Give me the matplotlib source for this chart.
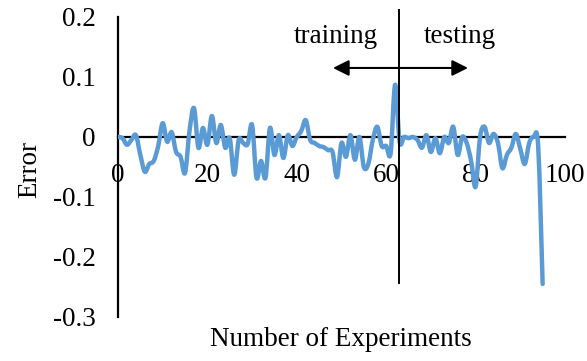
import matplotlib
matplotlib.use("Agg")
import matplotlib.pyplot as plt
from matplotlib.path import Path
from matplotlib.patches import PathPatch

# prediction error per experiment (first 63 used for training, rest for testing)
experiments = list(range(96))
errors = [
    0.000, -0.002, -0.013, -0.005, 0.003, -0.030, -0.058, -0.045, -0.040, -0.015,
    0.023, -0.008, 0.008, -0.025, -0.033, -0.060, 0.010, 0.048, -0.018, 0.015,
    -0.013, 0.035, -0.010, 0.020, -0.018, -0.002, -0.063, -0.005, -0.010, -0.012,
    0.020, -0.068, -0.040, -0.068, 0.015, -0.030, 0.003, -0.035, 0.003, -0.015,
    0.000, 0.010, 0.028, -0.005, -0.010, -0.015, -0.017, -0.022, -0.025, -0.067,
    -0.010, -0.033, 0.003, -0.038, 0.000, -0.050, -0.045, -0.005, 0.017, -0.015,
    -0.015, -0.027, 0.087, -0.008, 0.000, -0.002, 0.000, -0.005, -0.018, 0.003,
    -0.025, -0.002, -0.027, 0.000, -0.010, 0.017, -0.030, 0.000, -0.010, -0.040,
    -0.083, 0.000, 0.017, -0.010, 0.005, -0.010, -0.052, -0.030, -0.018, 0.005,
    -0.020, -0.045, -0.010, 0.000, -0.015, -0.245,
]
split_at = 62.9
x_ticks = [0, 20, 40, 60, 80, 100]
y_ticks = [-0.3, -0.2, -0.1, 0, 0.1, 0.2]
y_tick_labels = ["-0.3", "-0.2", "-0.1", "0", "0.1", "0.2"]


def smooth_path(xs, ys):
    # cubic bezier through every point (catmull-rom style, like a smoothed line)
    pts = list(zip(xs, ys))
    n = len(pts)
    verts = [pts[0]]
    codes = [Path.MOVETO]
    for i in range(n - 1):
        p0 = pts[max(i - 1, 0)]
        p1 = pts[i]
        p2 = pts[i + 1]
        p3 = pts[min(i + 2, n - 1)]
        c1 = (p1[0] + (p2[0] - p0[0]) / 6, p1[1] + (p2[1] - p0[1]) / 6)
        c2 = (p2[0] - (p3[0] - p1[0]) / 6, p2[1] - (p3[1] - p1[1]) / 6)
        verts += [c1, c2, p2]
        codes += [Path.CURVE4] * 3
    return Path(verts, codes)


plt.rcParams["font.family"] = "Liberation Serif"

fig = plt.figure(figsize=(5.87, 3.61), dpi=100)
ax = fig.add_axes([0.201, 0.122, 0.7615, 0.831])

ax.add_patch(PathPatch(smooth_path(experiments, errors), fill=False,
                       edgecolor="#5b9bd5", linewidth=3.2, joinstyle="round",
                       capstyle="round", zorder=3))

ax.set_xlim(0, 100)
ax.set_ylim(-0.3, 0.2)

ax.spines["top"].set_visible(False)
ax.spines["right"].set_visible(False)
ax.spines["bottom"].set_position(("data", 0))
ax.spines["left"].set_linewidth(1.6)
ax.spines["bottom"].set_linewidth(1.6)

ax.set_xticks(x_ticks)
ax.set_xticklabels([str(t) for t in x_ticks])
ax.set_yticks(y_ticks)
ax.set_yticklabels(y_tick_labels)
ax.tick_params(axis="x", length=0, pad=19, labelsize=19.5)
ax.tick_params(axis="y", length=0, pad=16, labelsize=19.5)

# train / test split marker
ax.plot([split_at, split_at], [-0.243, 0.212], color="black", linewidth=1.4,
        clip_on=False, zorder=4)
for tip in (48.1, 78.3):
    ax.annotate("", xy=(tip, 0.115), xytext=(split_at, 0.115),
                arrowprops=dict(arrowstyle="-|>", color="black", lw=1.5,
                                mutation_scale=24, shrinkA=0, shrinkB=0))
ax.text(48.8, 0.167, "training", ha="center", va="center", fontsize=19.5)
ax.text(76.5, 0.167, "testing", ha="center", va="center", fontsize=19.5)

ax.set_xlabel("Number of Experiments", fontsize=19.5)
ax.set_ylabel("Error", fontsize=19.5)
ax.xaxis.set_label_coords(341 / 587, 1 - 340 / 361, transform=fig.transFigure)
ax.yaxis.set_label_coords(30 / 587, 1 - 170 / 361, transform=fig.transFigure)
ax.xaxis.label.set_va("center")
ax.yaxis.label.set_va("center")

fig.savefig("out.png", dpi=100)
